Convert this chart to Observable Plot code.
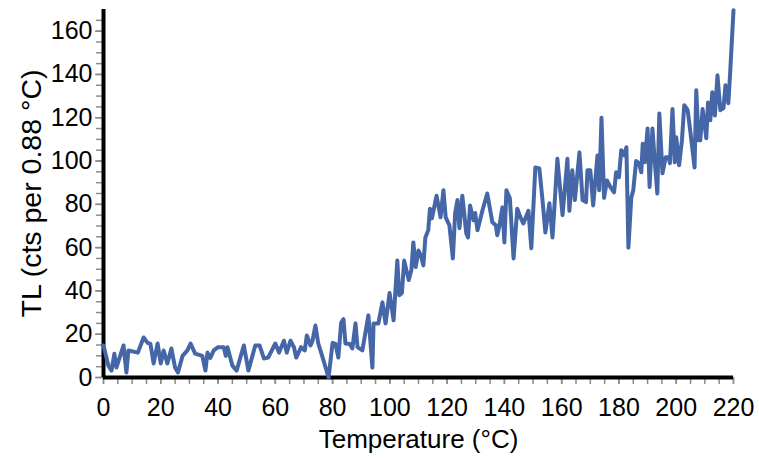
<!DOCTYPE html>
<html>
<head>
<meta charset="utf-8">
<script src="https://cdn.jsdelivr.net/npm/d3@7"></script>
<script src="https://cdn.jsdelivr.net/npm/@observablehq/plot@0.6"></script>
<style>
  html, body { margin: 0; padding: 0; background: #fff; }
  #chart svg { display: block; }
</style>
</head>
<body>
<div id="chart"></div>
<script>
// Temperature (°C) of each vertex of the glow curve
const temperature = [
  0,1.7,2.8,3.8,4.5,7,8,8.7,12,14,15.4,16.4,17.5,18.9,20,21,22.3,23.7,25,26,27.6,29.3,30.4,32,34.5,35.6,36.3,37.3,38.5,40,
  42,42.7,43.3,45,46.5,49,50.6,53,54.5,56,57.5,60,61.3,63,64,65.3,66.5,67.3,69,70.3,71,72.3,73,74,75,76,78.6,
  80,81,82,83,83.8,84.5,86,86.9,88,88.7,90.4,92.5,93.9,94.3,96,97.4,98.5,99.9,101.3,102.6,103.3,104.2,105,105.8,106.6,107.5,
  108.2,109,110,110.9,111.7,112.4,113.4,114,114.7,116.3,117.7,118.7,119.5,120.8,122,122.8,123.6,124.3,125.3,126.7,127.3,128,
  129.2,129.8,130.6,132.3,134,135.8,137,137.5,138.3,139.3,140,140.7,141.9,143.2,144.5,145.6,146.6,148.4,149.4,150.8,152.2,
  153.3,154.3,155.7,156.8,158.5,160.3,162,162.7,163.7,164.6,166.2,167.3,168.5,169,170,171,172.5,173.1,173.9,174.8,175.8,177,
  178.3,179,180,180.8,181.8,182.6,183.3,184.3,185,186,187,187.8,188.3,189,190,190.7,191.7,192.5,193.4,194.1,195.2,196.3,197.4,
  197.8,198.7,199.5,200,201,202,202.8,204,205,206.4,207,207.8,208.4,209.2,209.8,210.5,211.1,211.9,212.6,213.5,214.4,215.4,
  216.5,217.2,218.2,218.8,220
];
// TL counts per 0.88 °C at each vertex
const counts = [
  14.8,5.5,3.2,11,4.6,14.8,2.3,12.5,11.5,18.5,16,15.5,6.5,15.7,6.5,12.5,6.5,13.4,4.6,2.3,10,12.5,15.7,11,10,3.2,11.5,9,12.5,14,
  14,10,14,5.5,3.2,14.8,3.2,14.8,14.8,8.8,9.2,15.7,11.5,17,11.5,17,14,9.2,14,12.5,19.4,14.8,17,24,15.7,11.5,0,
  16,15.5,9.2,25.4,27,15.7,15.5,13.4,25,14,12.5,28.7,4.6,25,25,34.7,25,39,26.4,54,38,39,54,49.5,45,49.5,
  62.4,51,58.7,56,51.8,64.7,68,78,73.5,84,74,86.5,74,70.3,55,76,82,69,84,66.5,64.7,79.5,
  72.6,76,68,77,85,71.7,70.3,65.7,70.3,78.6,62.4,86.5,82.8,55,78,74,71.2,77,59.7,97,96.6,
  82,67,80.5,64.7,101,75,101,77,95.7,82,104,82,81,95.7,95.7,79.5,102.6,86.5,120,83,91,88,
  85.5,94.8,92.5,105,102.6,106.4,60,83,86.5,100,99,94.8,108,99.4,115,88,115,100,85,122,94.3,101.7,101.7,
  99,124,99.4,111,98,109.6,125.8,123.5,112.8,97,132.7,109.6,109.6,124,118,110.5,127,118.8,131.8,121,139.6,123.5,
  124.5,135,126.7,140,169.7
];
const xTicks = [0,20,40,60,80,100,120,140,160,180,200,220];
const yTicks = [0,20,40,60,80,100,120,140,160];
const xMinor = d3.range(0, 221, 5);
const yMinor = d3.range(0, 166, 5);
const xTitle = "Temperature (°C)";
const yTitle = "TL (cts per 0.88 °C)";

const data = temperature.map((t, i) => ({t, v: counts[i]}));
const font = "'Liberation Sans', Arial, sans-serif";

const chart = Plot.plot({
  width: 759,
  height: 462,
  marginLeft: 103,
  marginRight: 26,
  marginTop: 9,
  marginBottom: 85,
  style: {fontFamily: font, background: "#fff", color: "#000"},
  x: {domain: [0, 220]},
  y: {domain: [0, 170]},
  marks: [
    Plot.axisX({ticks: xMinor, tickSize: 7, text: null, stroke: "#8c8c8c", strokeWidth: 1.5, label: null}),
    Plot.axisY({ticks: yMinor, tickSize: 7, text: null, stroke: "#8c8c8c", strokeWidth: 1.5, label: null}),
    Plot.axisX({ticks: xTicks, tickSize: 7, tickPadding: 14, stroke: "#8c8c8c", strokeWidth: 1.5, fontSize: 25, fill: "#000", label: null}),
    Plot.axisY({ticks: yTicks, tickSize: 8, tickPadding: 3, stroke: "#8c8c8c", strokeWidth: 1.5, fontSize: 25, fill: "#000", label: null}),
    Plot.ruleY([0], {stroke: "#000", strokeWidth: 4}),
    Plot.ruleX([0], {stroke: "#000", strokeWidth: 4}),
    Plot.line(data, {x: "t", y: "v", stroke: "#4567a8", strokeWidth: 4, strokeLinejoin: "round", strokeLinecap: "round"}),
    Plot.text([xTitle], {frameAnchor: "bottom", dy: 70, fontSize: 26, fill: "#000"}),
    Plot.text([yTitle], {frameAnchor: "left", textAnchor: "middle", dx: -72, rotate: -90, fontSize: 28.5, fill: "#000"})
  ]
});
document.getElementById("chart").appendChild(chart);
</script>
</body>
</html>
